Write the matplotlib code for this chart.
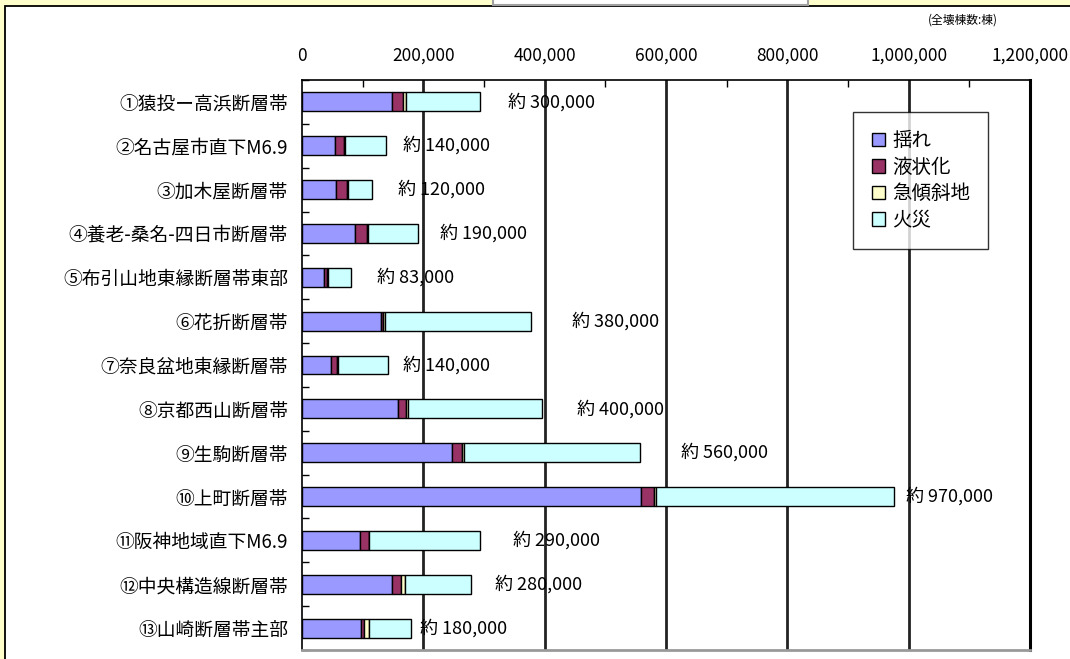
import numpy as np
import matplotlib
matplotlib.use("Agg")
import matplotlib.pyplot as plt
from matplotlib.patches import Rectangle
from matplotlib.ticker import FuncFormatter, MultipleLocator

plt.rcParams['font.family'] = ['Noto Sans CJK JP', 'DejaVu Sans']

# fault zones (top to bottom)
faults = ['①猿投ー高浜断層帯', '②名古屋市直下M6.9', '③加木屋断層帯',
          '④養老-桑名-四日市断層帯', '⑤布引山地東縁断層帯東部', '⑥花折断層帯',
          '⑦奈良盆地東縁断層帯', '⑧京都西山断層帯', '⑨生駒断層帯',
          '⑩上町断層帯', '⑪阪神地域直下M6.9', '⑫中央構造線断層帯',
          '⑬山崎断層帯主部']

# collapsed buildings by cause
shaking = [148000, 54000, 56000, 88000, 37000, 130000, 47000, 159000, 248000, 558000, 95000, 148000, 97000]
liquef  = [19000, 16000, 18000, 19000, 4000, 4000, 10000, 12000, 16000, 22000, 15000, 15000, 6000]
steep   = [5000, 1000, 2000, 1000, 2000, 3000, 3000, 4000, 3000, 4000, 1000, 6000, 7000]
fire    = [121000, 67000, 40000, 83000, 38000, 240000, 81000, 220000, 290000, 391000, 182000, 109000, 70000]

totals = ['約 300,000', '約 140,000', '約 120,000', '約 190,000', '約 83,000', '約 380,000',
          '約 140,000', '約 400,000', '約 560,000', '約 970,000', '約 290,000', '約 280,000',
          '約 180,000']
# where the total labels sit (data units, as placed in the original)
label_x = [340000, 167000, 159000, 227000, 123000, 445000, 167000, 454000, 624000, 996000,
           347000, 318000, 195000]

series = [('揺れ', shaking, '#9999FF'), ('液状化', liquef, '#993366'),
          ('急傾斜地', steep, '#FFFFCC'), ('火災', fire, '#CCFFFF')]

fig = plt.figure(figsize=(10.7, 6.59), dpi=100, facecolor='#FFFFCC')

# white panel with border, and the cut-off title box at the top
fig.patches.append(Rectangle((5/1070, -0.05), 1.1, 1 - 6/659 + 0.05, transform=fig.transFigure,
                             facecolor='white', edgecolor='black', lw=1.3, zorder=-2))
fig.patches.append(Rectangle((493/1070, 1 - 5/659), 315/1070, 0.02, transform=fig.transFigure,
                             facecolor='white', edgecolor='#A0A0A0', lw=1.5, zorder=-1))

ax = fig.add_axes([302/1070, 1 - 650/659, 728/1070, 570/659])
ax.set_zorder(2)
ax.set_facecolor('white')

y = np.arange(len(faults))
left = np.zeros(len(faults))
for name, vals, col in series:
    ax.barh(y, vals, left=left, height=0.43, color=col, edgecolor='black', lw=1.0,
            label=name, zorder=3)
    left += np.array(vals)

for yi, (lx, txt) in enumerate(zip(label_x, totals)):
    ax.text(lx, yi, txt, ha='left', va='center', fontsize=13, zorder=4)

ax.set_xlim(0, 1200000)
ax.set_ylim(len(faults) - 0.5, -0.5)
ax.set_yticks(y)
ax.set_yticklabels(faults, fontsize=13.5)
ax.set_yticks(np.arange(len(faults) + 1) - 0.5, minor=True)
ax.tick_params(axis='y', which='major', length=0, pad=10)
ax.tick_params(axis='y', which='minor', direction='in', length=5, width=1)

ax.xaxis.tick_top()
ax.set_xticks(np.arange(0, 1200001, 200000))
ax.xaxis.set_minor_locator(MultipleLocator(100000))
ax.xaxis.set_major_formatter(FuncFormatter(lambda v, p: f'{int(v):,}'))
ax.tick_params(axis='x', which='major', direction='in', length=0, pad=11, labelsize=12.5)
ax.tick_params(axis='x', which='minor', direction='in', length=5, width=1)

for xv in np.arange(200000, 1200000, 200000):
    ax.axvline(xv, color='#222222', lw=2, zorder=2)

ax.spines['left'].set_linewidth(1.2)
ax.spines['top'].set_linewidth(1.2)
ax.spines['right'].set_linewidth(2.2)
ax.spines['bottom'].set_color('#999999')
ax.spines['bottom'].set_linewidth(2)

leg = ax.legend(loc='upper left', bbox_to_anchor=(0.757, 0.944), fontsize=14,
                frameon=True, fancybox=False, edgecolor='black', handlelength=0.7,
                handleheight=0.7, handletextpad=0.35, labelspacing=0.28,
                borderpad=0.95, borderaxespad=0)
leg.get_frame().set_linewidth(1.0)
leg.set_zorder(5)

fig.text(963/1070, 1 - 20/659, '(全壊棟数:棟)', ha='center', va='center', fontsize=8.5)

fig.savefig('out.png', dpi=100, facecolor=fig.get_facecolor())
